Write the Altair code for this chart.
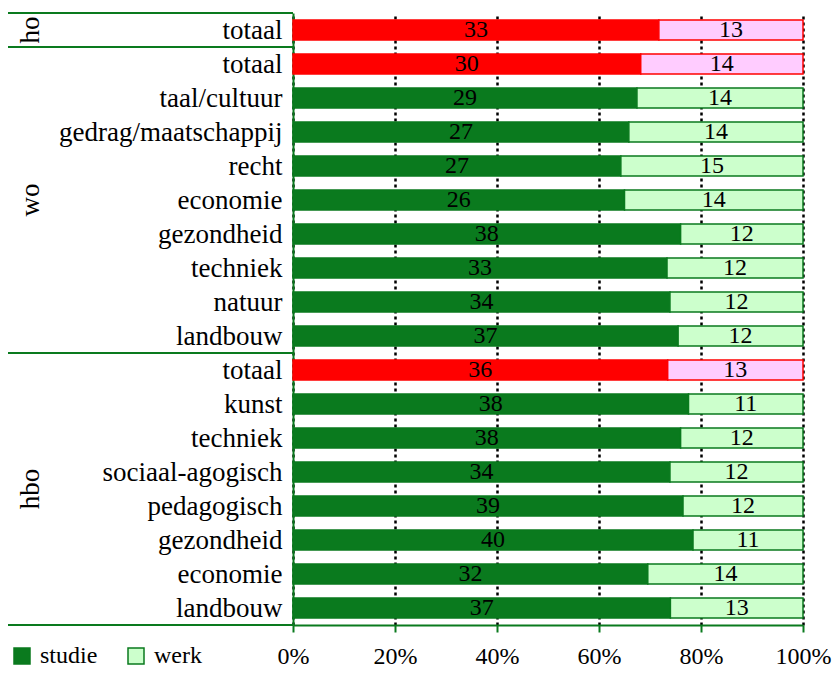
import json
import altair as alt
import pandas as pd

labels = ["totaal",
          "totaal", "taal/cultuur", "gedrag/maatschappij", "recht", "economie",
          "gezondheid", "techniek", "natuur", "landbouw",
          "totaal", "kunst", "techniek", "sociaal-agogisch", "pedagogisch",
          "gezondheid", "economie", "landbouw"]
studie = [33, 30, 29, 27, 27, 26, 38, 33, 34, 37, 36, 38, 38, 34, 39, 40, 32, 37]
werk = [13, 14, 14, 14, 15, 14, 12, 12, 12, 12, 13, 11, 12, 12, 12, 11, 14, 13]
groups = ["ho", "wo", "hbo"]
group_start = [0, 1, 10]
group_end = [1, 10, 18]

rows = []
for i, (lab, s, w) in enumerate(zip(labels, studie, werk)):
    tot = s + w
    suffix = "_tot" if lab == "totaal" else ""
    rows.append(dict(row=i, kind="studie" + suffix, value=s, x0=0.0, x1=s / tot))
    rows.append(dict(row=i, kind="werk" + suffix, value=w, x0=s / tot, x1=1.0))
df = pd.DataFrame(rows)
df["y0"] = df["row"] + 0.205
df["y1"] = df["row"] + 0.795
df["mid"] = (df["x0"] + df["x1"]) / 2
df["yc"] = df["row"] + 0.5

gdf = pd.DataFrame(dict(g=groups, yc=[(a + b) / 2 for a, b in zip(group_start, group_end)]))
bdf = pd.DataFrame(dict(b=sorted(set(group_start + group_end))))

GREEN = "#0A7A1E"
kinds = ["studie", "werk", "studie_tot", "werk_tot"]
fills = [GREEN, "#CCFFCC", "#FF0000", "#FFCCFF"]
strokes = [GREEN, GREEN, "#FF0000", "#FF0000"]
FONT = "Liberation Serif, Times New Roman, Times, serif"

label_expr = json.dumps(labels).replace('"', "'") + "[floor(datum.value)]"

xscale = alt.Scale(domain=[0, 1], nice=False)
yscale = alt.Scale(domain=[0, 18], reverse=True, nice=False, zero=False)
leg = alt.Legend(title=None, values=["studie", "werk"], orient="none",
                 legendX=-283, legendY=631, direction="horizontal",
                 symbolType="square", symbolSize=256, symbolStrokeWidth=1.5,
                 labelFont=FONT, labelFontSize=24, labelColor="black",
                 columnPadding=26, labelOffset=6)

bars = alt.Chart(df).mark_bar(strokeWidth=1.5).encode(
    x=alt.X("x0:Q", scale=xscale,
            axis=alt.Axis(values=[0, 0.2, 0.4, 0.6, 0.8, 1.0], format=".0%",
                          tickCount=10,
                          title=None, grid=True, gridColor="black", gridDash=[3, 3],
                          gridWidth=2.5, domainColor=GREEN, domainWidth=2,
                          tickColor=GREEN, tickWidth=2, tickSize=7,
                          labelFont=FONT, labelFontSize=24, labelColor="black",
                          labelPadding=12, labelFlush=False, labelOverlap=False)),
    x2="x1:Q",
    y=alt.Y("y0:Q", scale=yscale,
            axis=alt.Axis(values=[i + 0.5 for i in range(18)], labelExpr=label_expr,
                          tickCount=40, labelLimit=400,
                          title=None, grid=False, ticks=False, domainColor=GREEN,
                          domainWidth=2, labelFont=FONT, labelFontSize=27,
                          labelColor="black", labelPadding=11, labelOverlap=False)),
    y2="y1:Q",
    fill=alt.Fill("kind:N", scale=alt.Scale(domain=kinds, range=fills), legend=leg),
    stroke=alt.Stroke("kind:N", scale=alt.Scale(domain=kinds, range=strokes), legend=leg),
)

values = alt.Chart(df).mark_text(font=FONT, fontSize=24, color="black").encode(
    x=alt.X("mid:Q"), y=alt.Y("yc:Q"), text="value:Q")

group_text = alt.Chart(gdf).mark_text(font=FONT, fontSize=27, color="black",
                                      angle=270, align="center", baseline="middle").encode(
    x=alt.value(-262), y=alt.Y("yc:Q"), text="g:N")

seps = alt.Chart(bdf).mark_rule(color=GREEN, strokeWidth=2).encode(
    x=alt.value(-285), x2=alt.value(0), y=alt.Y("b:Q"))

chart = alt.layer(bars, values, group_text, seps).properties(
    width=510, height=612,
    autosize=alt.AutoSizeParams(type="none"),
    padding={"left": 285, "top": 5, "right": 29, "bottom": 44},
).configure_view(stroke=None)

chart.save("out.html", embed_options={"renderer": "svg", "actions": False})
